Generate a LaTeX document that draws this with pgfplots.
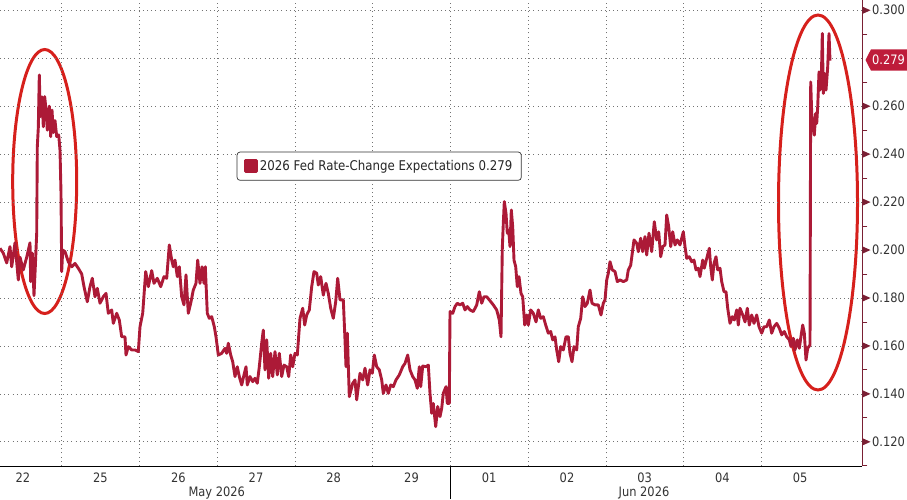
\documentclass[border=0pt]{standalone}
\usepackage{fontspec}
\setmainfont{DejaVu Sans}[FakeStretch=0.88]
\usepackage{pgfplots}
\pgfplotsset{compat=1.18}
\usepackage{pgfplotstable}
\definecolor{linecol}{RGB}{172,26,55}
\definecolor{ellcol}{RGB}{214,32,28}
\definecolor{axcol}{RGB}{122,32,52}
\definecolor{boxcol}{RGB}{190,28,58}
\newcommand\lbl{\fontsize{13pt}{15pt}\selectfont}
\newcommand\leg{\fontsize{13.4pt}{15pt}\selectfont}
\pgfplotstableread{
t v
0 0.2007
3.3 0.1987
6.7 0.1946
10 0.2014
11.7 0.1930
15 0.2030
18.3 0.1875
20 0.1970
23.3 0.1917
26.7 0.1970
30 0.2030
30.7 0.1868
32.3 0.1987
34 0.1810
35.3 0.1930
36.7 0.2070
37.3 0.2430
38.3 0.2510
39.3 0.2730
40.3 0.2556
42 0.2639
43.3 0.2514
44.7 0.2640
46 0.2584
47.3 0.2500
49.3 0.2600
50.7 0.2473
52 0.2584
53.3 0.2490
55 0.2540
56.7 0.2473
58.7 0.2480
60 0.2417
61 0.2238
61.7 0.1910
62.7 0.2000
65 0.1993
68.3 0.1951
71.7 0.1930
75 0.1944
78.3 0.1924
81.7 0.1900
84 0.1847
87.3 0.1784
90 0.1847
92.3 0.1882
95 0.1805
97.3 0.1840
100 0.1778
103.3 0.1805
106 0.1819
108.3 0.1736
111.7 0.1750
113.3 0.1694
116.7 0.1736
119.3 0.1708
121.7 0.1638
125 0.1638
126 0.1562
128.3 0.1597
131.7 0.1583
135 0.1583
138.3 0.1576
140 0.1680
142.7 0.1736
145.7 0.1910
148.3 0.1847
151.7 0.1914
154 0.1861
157.3 0.1882
160.7 0.1847
164 0.1889
166.7 0.1882
169.3 0.2021
171.7 0.1958
173.3 0.1930
175 0.1958
177.3 0.1889
179.3 0.1930
181.7 0.1805
184 0.1771
186 0.1896
188.3 0.1736
190.7 0.1778
193.3 0.1833
196 0.1861
197.7 0.1958
200 0.1861
202 0.1930
204 0.1861
205.3 0.1930
207.3 0.1736
209.3 0.1715
211.7 0.1722
214.3 0.1680
216 0.1638
218.3 0.1562
221.7 0.1569
225 0.1590
226.7 0.1569
228.3 0.1611
230.7 0.1562
232.7 0.1534
235 0.1472
237.3 0.1513
239.3 0.1472
241.7 0.1437
244 0.1479
246 0.1513
247.3 0.1437
250 0.1472
252.7 0.1451
255 0.1465
257.3 0.1444
259.3 0.1513
261.7 0.1611
263.3 0.1666
265 0.1500
266.7 0.1625
268.7 0.1465
270.7 0.1569
272.7 0.1472
275 0.1576
277.3 0.1479
279.3 0.1569
281.7 0.1472
284 0.1520
286.7 0.1513
288.7 0.1472
290.7 0.1562
292.7 0.1513
295 0.1569
297.3 0.1562
300 0.1715
302.7 0.1757
304.7 0.1687
306.7 0.1729
309.3 0.1750
311.7 0.1847
314 0.1910
316.7 0.1903
318.3 0.1854
320.7 0.1889
323.3 0.1812
326 0.1861
328.3 0.1819
330.7 0.1757
333.3 0.1715
335.7 0.1784
337.7 0.1882
340 0.1792
343.3 0.1792
345 0.1625
346 0.1513
347.3 0.1653
349.3 0.1388
352.7 0.1444
355 0.1458
356.7 0.1375
360 0.1486
362.7 0.1458
365 0.1507
367.7 0.1437
370 0.1500
372.3 0.1486
374.3 0.1562
376.7 0.1513
379.3 0.1500
381.7 0.1458
383.3 0.1402
386 0.1437
388.3 0.1402
390.7 0.1437
393.3 0.1430
396 0.1458
399.3 0.1479
402.7 0.1513
405 0.1527
407.7 0.1562
410 0.1500
412.7 0.1472
415 0.1458
417.3 0.1423
419.3 0.1513
420.7 0.1430
422.7 0.1516
426 0.1513
428.3 0.1520
430 0.1402
431.7 0.1319
433.3 0.1360
435.7 0.1263
437.7 0.1347
440 0.1305
441.7 0.1340
443.3 0.1402
446 0.1430
447.3 0.1360
449.3 0.1360
450 0.1743
452.7 0.1736
455 0.1764
457.3 0.1778
460 0.1771
462.7 0.1778
465 0.1750
467.3 0.1764
470 0.1750
473.3 0.1743
476.7 0.1771
479.3 0.1826
481.7 0.1778
484 0.1805
486.7 0.1805
489.3 0.1792
493.3 0.1771
496.7 0.1750
499.3 0.1708
501 0.1638
502.3 0.2007
503.3 0.2111
504.3 0.2202
506 0.2153
507.3 0.2070
508.7 0.2083
510 0.2014
511.3 0.2167
512.7 0.2097
514 0.1958
515.7 0.1930
517.3 0.1847
519 0.1889
521 0.1819
522.7 0.1805
524.7 0.1687
526.7 0.1729
528.3 0.1687
530.7 0.1750
533.3 0.1736
536 0.1700
538.3 0.1750
540.7 0.1715
543.3 0.1722
545.7 0.1687
548.3 0.1653
550.7 0.1660
552.7 0.1625
555 0.1638
556.7 0.1583
558.7 0.1534
560.7 0.1597
563.3 0.1583
566 0.1638
568.3 0.1638
570 0.1569
572 0.1534
574 0.1597
576.7 0.1583
578.3 0.1680
580.7 0.1715
582.7 0.1805
585 0.1764
587.3 0.1778
590 0.1833
592 0.1778
595 0.1771
598.3 0.1771
601 0.1729
603.3 0.1778
605 0.1792
606.7 0.1875
608.3 0.1903
610 0.1951
612.3 0.1917
615 0.1910
617.3 0.1868
620 0.1875
623.3 0.1868
626.7 0.1875
628.3 0.1917
630.7 0.1937
632.7 0.2000
634 0.2042
636.7 0.2028
638.3 0.1993
640.7 0.2049
642.7 0.1993
645 0.2056
646.7 0.1979
649 0.2070
651.7 0.1993
654.3 0.2118
656.7 0.2042
658.7 0.2076
660.7 0.1972
662.7 0.2014
665 0.2021
666.7 0.2146
668.7 0.2097
670.7 0.2014
672.7 0.2076
675 0.2021
677.3 0.2042
680 0.2021
683.3 0.2076
685 0.2014
686.7 0.1965
689.3 0.1972
691.7 0.1951
694 0.1958
696 0.1917
698.3 0.1924
700 0.1889
702.7 0.1958
704.3 0.1924
706.7 0.1965
709.3 0.2007
710.7 0.1930
712.3 0.1875
714 0.1944
716 0.1972
717.7 0.1917
720 0.1924
721.7 0.1868
724 0.1826
726 0.1826
727.7 0.1757
730 0.1694
732.3 0.1722
734.3 0.1708
736.7 0.1750
738.3 0.1687
740 0.1757
742.7 0.1729
745 0.1700
747.3 0.1757
749.3 0.1687
751.7 0.1729
754 0.1694
756.7 0.1729
759 0.1680
761.7 0.1653
764 0.1680
766.7 0.1680
769.3 0.1708
771.7 0.1653
774 0.1680
776.7 0.1694
779.3 0.1674
781.7 0.1646
784.3 0.1660
786.7 0.1638
789.3 0.1625
791 0.1597
793.3 0.1632
795 0.1583
797.3 0.1625
799.3 0.1590
800.7 0.1632
802.7 0.1687
804.3 0.1653
806 0.1541
807.7 0.1590
810 0.1604
810.7 0.2701
811.7 0.2570
813.3 0.2514
814.3 0.2479
815.7 0.2570
816.7 0.2528
817.7 0.2597
819 0.2743
820 0.2667
821.3 0.2709
822.3 0.2903
823.3 0.2653
824.7 0.2736
826 0.2667
827.7 0.2764
829 0.2903
830 0.2790
}\series
\begin{document}
\begin{tikzpicture}[x=1pt,y=1pt]
\draw[ellcol, line width=3pt] (44.7,284.5) ellipse [x radius=32, y radius=132];
\draw[ellcol, line width=3pt] (818,263.5) ellipse [x radius=39.5, y radius=187.5];
\begin{axis}[
  at={(0,0)}, anchor=south west,
  scale only axis, width=862.3pt, height=466pt,
  xmin=0, xmax=862.3, ymin=0.10990, ymax=0.30428,
  /pgf/number format/assume math mode=true,
  axis line style={draw=none},
  tick align=outside,
  major tick length=0pt, minor tick length=5pt,
  ytick pos=right, xtick pos=bottom,
  tick style={axcol, line width=0.8pt},
  xtick={22.8,100.5,178.3,256,333.7,411.5,489.2,567,644.7,722.4,800.2},
  xticklabels={22,25,26,27,28,29,01,02,03,04,05},
  xticklabel style={font=\lbl, text=black!80, anchor=base, yshift=-16pt},
  extra x ticks={61.7,139.4,217.2,294.9,372.6,450.4,528.1,605.8,683.6,761.3},
  extra x tick labels={},
  extra x tick style={grid=major, major tick length=0pt},
  ytick={0.12,0.14,0.16,0.18,0.20,0.22,0.24,0.26,0.30},
  minor ytick={0.11,0.13,0.15,0.17,0.19,0.21,0.23,0.25,0.27,0.29},
  extra y ticks={0.28}, extra y tick labels={},
  extra y tick style={grid=major, major tick length=0pt},
  ymajorgrids=true,
  major grid style={black!55, line width=0.6pt, dash pattern=on 1pt off 3.2pt},
  yticklabel style={font=\lbl, text=black!80, anchor=west, inner sep=0pt},
  yticklabel={\tikz[baseline={(0,-4.7pt)}]\fill[axcol] (0,3.6pt)--(8pt,0)--(0,-3.6pt)--cycle;\hspace{1.6pt}\pgfmathprintnumber[fixed,fixed zerofill,precision=3]{\tick}},
  legend style={at={(0.2745,0.6745)}, anchor=north west, draw=black!80, line width=0.7pt,
    rounded corners=3pt, inner xsep=7pt, inner ysep=6.3pt, font=\leg, text=black!85},
  legend image code/.code={\fill[linecol, sharp corners] (0pt,-5.5pt) rectangle (11pt,5.5pt);},
]
\addplot[linecol, line width=2.9pt, line join=round] table[x=t, y=v] {\series};
\addlegendentry{2026 Fed Rate-Change Expectations 0.279}
\end{axis}
\draw[black, line width=0.8pt] (0,0) -- (862.3,0);
\draw[axcol, line width=0.9pt] (862.3,0) -- (862.3,466);
\draw[black, line width=0.8pt] (450.4,0) -- (450.4,-33);
\node[font=\lbl, text=black!80, anchor=base] at (216.7,-30) {May 2026};
\node[font=\lbl, text=black!80, anchor=base] at (644,-30) {Jun 2026};
\fill[boxcol] (865.5,406) -- (871,416.7) -- (907,416.7) -- (907,395.3) -- (871,395.3) -- cycle;
\node[font=\lbl, text=white, inner sep=0pt] at (888.5,406) {0.279};
\pgfresetboundingbox
\path (0,-33) rectangle (907,466);
\end{tikzpicture}
\end{document}
